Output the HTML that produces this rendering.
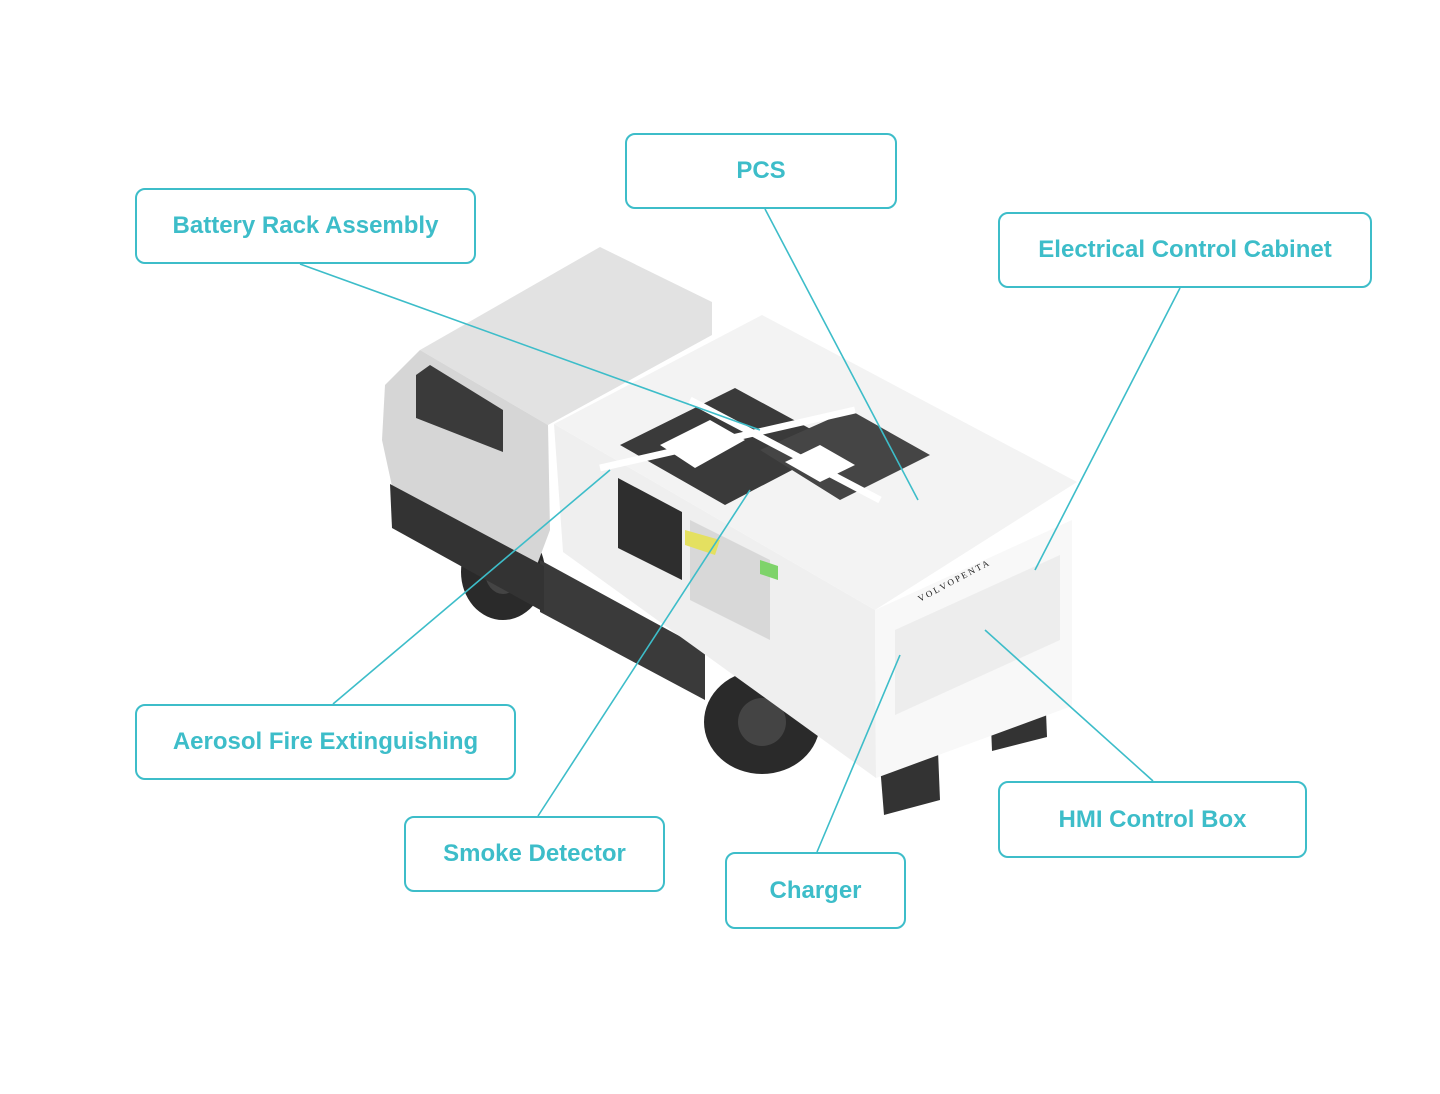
<!DOCTYPE html>
<html><head><meta charset="utf-8"><style>
html,body{margin:0;padding:0;background:#fff;}
.wrap{position:relative;width:1440px;height:1094px;overflow:hidden;}
.lb{position:absolute;box-sizing:border-box;border:2px solid #3dbdc9;border-radius:10px;background:#fff;color:#3dbdc9;font-family:"Liberation Sans",sans-serif;font-weight:bold;font-size:24px;display:flex;align-items:center;justify-content:center;}
svg{position:absolute;left:0;top:0;}
</style></head><body><div class="wrap">
<svg width="1440" height="1094" viewBox="0 0 1440 1094">
<!-- wheels -->
<ellipse cx="503" cy="572" rx="42" ry="48" fill="#2a2a2a"/>
<ellipse cx="503" cy="572" rx="18" ry="22" fill="#444"/>
<ellipse cx="762" cy="722" rx="58" ry="52" fill="#2a2a2a"/>
<ellipse cx="762" cy="722" rx="24" ry="24" fill="#444"/>
<!-- chassis -->
<polygon points="540,560 705,650 705,700 540,612" fill="#3a3a3a"/>
<!-- cab -->
<polygon points="420,350 600,247 712,302 712,335 548,425" fill="#e2e2e2"/>
<polygon points="385,385 420,350 548,425 550,530 535,570 395,500 382,440" fill="#d6d6d6"/>
<polygon points="416,375 430,365 503,410 503,452 416,418" fill="#3a3a3a"/>
<polygon points="390,484 544,566 544,612 392,528" fill="#333"/>
<!-- mud flaps -->
<polygon points="880,765 938,751 940,800 884,815" fill="#333"/>
<polygon points="990,700 1045,687 1047,737 992,751" fill="#333"/>
<!-- body -->
<polygon points="554,424 875,610 876,778 563,552" fill="#efefef"/>
<polygon points="875,610 1072,520 1072,706 876,778" fill="#f8f8f8"/>
<polygon points="554,424 762,315 1077,482 875,610" fill="#f3f3f3"/>
<polygon points="620,445 735,388 840,445 725,505" fill="#3a3a3a"/>
<polygon points="760,450 850,410 930,455 840,500" fill="#454545"/>
<polygon points="660,445 710,420 745,440 695,468" fill="#fff"/>
<polygon points="785,462 820,445 855,465 820,482" fill="#fff"/>
<line x1="600" y1="468" x2="855" y2="410" stroke="#fff" stroke-width="7"/>
<line x1="690" y1="400" x2="880" y2="500" stroke="#fff" stroke-width="7"/>
<polygon points="618,478 682,512 682,580 618,548" fill="#2e2e2e"/>
<polygon points="690,520 770,560 770,640 690,600" fill="#d8d8d8"/>
<polygon points="685,530 720,540 715,555 685,545" fill="#e4e060"/>
<polygon points="760,560 778,566 778,580 760,574" fill="#7ed36a"/>
<polygon points="895,630 1060,555 1060,640 895,715" fill="#e6e6e6" opacity="0.6"/>
<text x="920" y="602" font-family="Liberation Serif,serif" font-size="9" fill="#222" transform="rotate(-28 920 602)">V O L V O   P E N T A</text>
<!-- connectors -->
<g stroke="#3dbdc9" stroke-width="1.6" fill="none">
<line x1="300" y1="264" x2="760" y2="430"/>
<line x1="765" y1="209" x2="918" y2="500"/>
<line x1="1180" y1="288" x2="1035" y2="570"/>
<line x1="333" y1="704" x2="610" y2="470"/>
<line x1="538" y1="816" x2="750" y2="490"/>
<line x1="817" y1="852" x2="900" y2="655"/>
<line x1="1153" y1="781" x2="985" y2="630"/>
</g>
</svg>
<div class="lb" style="left:135px;top:188px;width:341px;height:76px;">Battery Rack Assembly</div>
<div class="lb" style="left:625px;top:133px;width:272px;height:76px;">PCS</div>
<div class="lb" style="left:998px;top:212px;width:374px;height:76px;">Electrical Control Cabinet</div>
<div class="lb" style="left:135px;top:704px;width:381px;height:76px;">Aerosol Fire Extinguishing</div>
<div class="lb" style="left:404px;top:816px;width:261px;height:76px;">Smoke Detector</div>
<div class="lb" style="left:725px;top:852px;width:181px;height:77px;">Charger</div>
<div class="lb" style="left:998px;top:781px;width:309px;height:77px;">HMI Control Box</div>
</div></body></html>
